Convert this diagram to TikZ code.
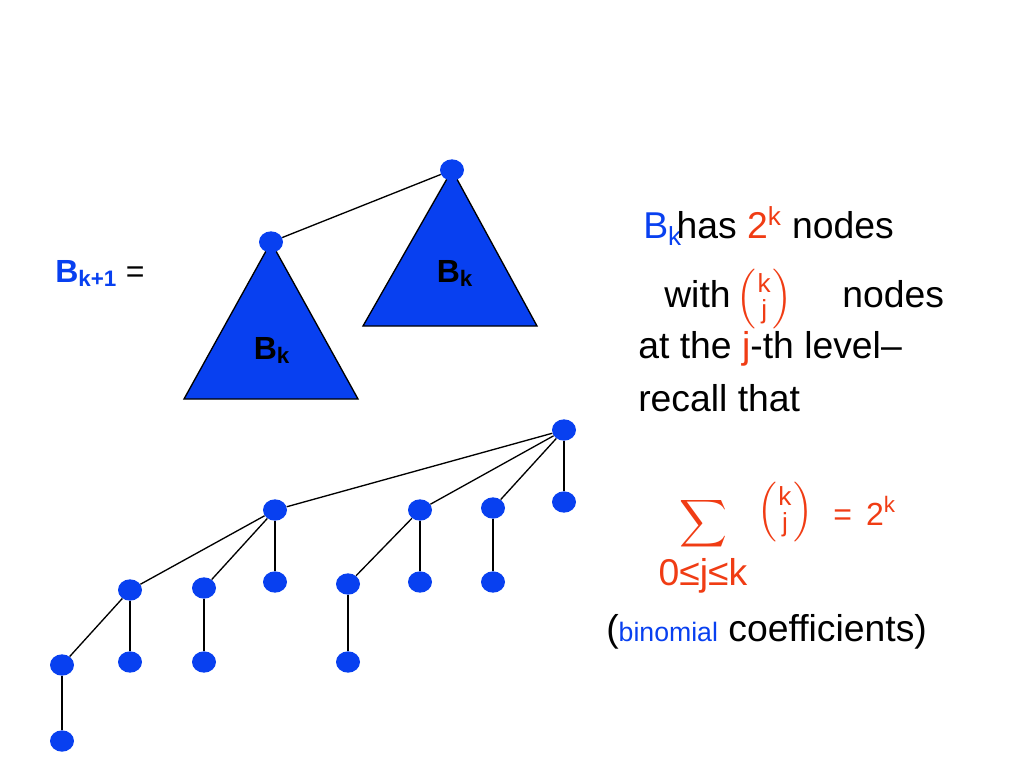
\documentclass[tikz,border=0pt]{standalone}
\usepackage{amsmath}
\usepackage{fontspec}
\setmainfont{Liberation Sans}
\usetikzlibrary{shapes.geometric}
\begin{document}
\begin{tikzpicture}[x=0.75pt,y=-0.75pt,
  vtx/.style={ellipse,fill=nblue,minimum width=18pt,minimum height=16pt,inner sep=0pt},
  tri/.style={fill=nblue,draw=black,line width=1pt},
  edge/.style={line width=1pt},
  big/.style={font=\fontsize{28}{30}\selectfont,inner sep=0pt,anchor=base}]
\definecolor{nblue}{RGB}{8,64,240}
\definecolor{nred}{RGB}{240,60,20}
\useasboundingbox (0,0) rectangle (1024,768);
% top
\draw[tri] (452,170) -- (537,326) -- (363,326) -- cycle;
\draw[tri] (271,242) -- (358,399) -- (184,399) -- cycle;
\node[vtx] (r) at (452,170) {};
\node[vtx] (c) at (271,242) {};
\draw[edge] (r) -- (c);
\node[big,font=\fontsize{24}{26}\selectfont\bfseries] (bk1) at (455,282) {B\textsubscript{k}};
\node[big,font=\fontsize{24}{26}\selectfont\bfseries] (bk2) at (272,359) {B\textsubscript{k}};
\node[big,font=\fontsize{24}{26}\selectfont] (bkp) at (100,282) {\textcolor{nblue}{\textbf{B\textsubscript{k+1}}} =};
% bottom tree
\foreach \n/\x/\y in {a/564/430,b/275/510,c2/420/510,d/493/508,e/564/502,
  f/130/590,g/204/588,h/275/582,i/62/665,j/130/662,k/62/741,l/204/662,
  m/348/584,n/420/582,o/348/662,p/493/582}
  \node[vtx] (\n) at (\x,\y) {};
\foreach \u/\v in {a/b,a/c2,a/d,a/e,b/f,b/g,b/h,f/i,f/j,i/k,g/l,c2/m,c2/n,m/o,d/p}
  \draw[edge] (\u) -- (\v);
% text
\node[big,anchor=base west] (t1) at (643,238) {\textcolor{nblue}{B\textsubscript{k}}\hspace{-4pt}has \textcolor{nred}{2\textsuperscript{k}} nodes};
\node[big,anchor=base west] (t2a) at (664,307) {with};
\node[big,anchor=base west,text=nred] (t2b) at (736,307) {$\left(\genfrac{}{}{0pt}{}{\textrm{k}}{\textrm{j}}\right)$};
\node[big,anchor=base west] (t2c) at (842,307) {nodes};
\node[big,anchor=base west] (t3) at (638,358) {at the \textcolor{nred}{j}-th level--};
\node[big,anchor=base west] (t4) at (638,411) {recall that};
\node[big,text=nred] (sig) at (703,532) {$\displaystyle\sum$};
\node[big,text=nred] (bin) at (785,520) {$\left(\genfrac{}{}{0pt}{}{\textrm{k}}{\textrm{j}}\right)$};
\node[big,anchor=base west,text=nred,font=\fontsize{24}{26}\selectfont] (eq) at (833,525) {= \,2\textsuperscript{k}};
\node[big,text=nred] (rng) at (703,585) {0≤j≤k};
\node[big,anchor=base west] (t5) at (606,641) {(\textcolor{nblue}{\fontsize{20}{22}\selectfont binomial} coefficients)};
\end{tikzpicture}
\end{document}
